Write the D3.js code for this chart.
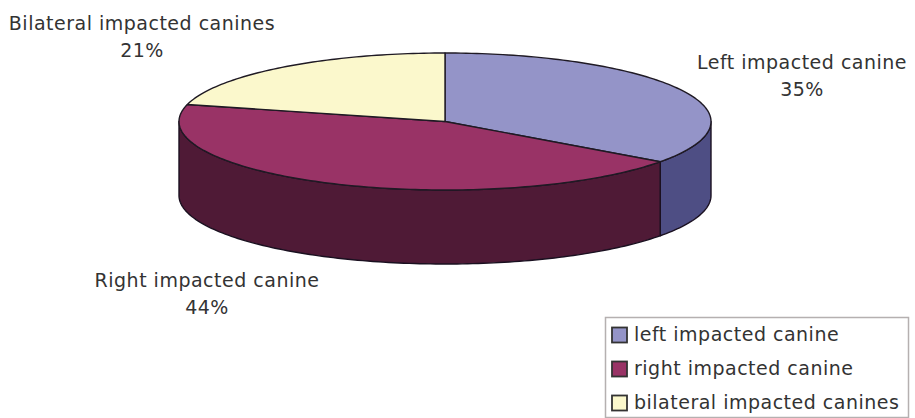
<!DOCTYPE html>
<html>
<head>
<meta charset="utf-8">
<script src="https://cdn.jsdelivr.net/npm/d3@7/dist/d3.min.js"></script>
<style>
html,body{margin:0;padding:0;background:#fff;}
svg{display:block;}
text{font-family:"DejaVu Sans",sans-serif;fill:#333;letter-spacing:0.5px;}
</style>
</head>
<body>
<svg id="chart" width="915" height="418"></svg>
<script>
// Share of each canine impaction type, in percent
const categories = ["left impacted canine", "right impacted canine", "bilateral impacted canines"];
const labelLines = ["Left impacted canine", "Right impacted canine", "Bilateral impacted canines"];
const values = [35, 44, 21];
const topColors = ["#9494c8", "#993366", "#fbf8cc"];
const sideColors = ["#4e4e84", "#4f1a36"];
const labelCentres = [[802, 62], [207, 280], [142, 23]];

const W = 915, H = 418;
const cx = 445, cy = 121.5, rx = 266, ry = 68.5, depth = 74;

const svg = d3.select("#chart").attr("viewBox", `0 0 ${W} ${H}`);

const slices = d3.pie().sort(null).value(d => d)(values);

// Flatten the circle into the tilted disc
const px = a => cx + rx * Math.sin(a);
const py = a => cy - ry * Math.cos(a);

const arcLine = (a0, a1, dy) => {
  const n = Math.max(2, Math.ceil((a1 - a0) / 0.02));
  return d3.range(n + 1).map(i => {
    const a = a0 + (a1 - a0) * i / n;
    return [px(a), py(a) + dy];
  });
};
const line = d3.line();

// Side wall: only the front half of the rim, from 90 to 270 degrees, is visible
const frontStart = Math.PI / 2, frontEnd = 3 * Math.PI / 2;
slices.forEach((s, i) => {
  const a0 = Math.max(s.startAngle, frontStart);
  const a1 = Math.min(s.endAngle, frontEnd);
  if (a1 <= a0) return;
  const pts = arcLine(a0, a1, 0).concat(arcLine(a0, a1, depth).reverse());
  svg.append("path")
    .attr("d", line(pts) + "Z")
    .attr("fill", sideColors[i])
    .attr("stroke", "#1a1020")
    .attr("stroke-width", 1.4)
    .attr("stroke-linejoin", "round");
});

// Top face of the disc
slices.forEach((s, i) => {
  const pts = [[cx, cy]].concat(arcLine(s.startAngle, s.endAngle, 0));
  svg.append("path")
    .attr("d", line(pts) + "Z")
    .attr("fill", topColors[i])
    .attr("stroke", "#1f1a24")
    .attr("stroke-width", 1.4)
    .attr("stroke-linejoin", "round");
});

// Data labels: name on the first line, percent on the second
const labels = svg.append("g").attr("font-size", 19).attr("text-anchor", "middle");
labelLines.forEach((name, i) => {
  const [x, y] = labelCentres[i];
  labels.append("text").attr("x", x).attr("y", y + 6.5).text(name);
  labels.append("text").attr("x", x).attr("y", y + 33.5).text(values[i] + "%");
});

// Legend
const legend = svg.append("g");
legend.append("rect")
  .attr("x", 605.5).attr("y", 317.5).attr("width", 303).attr("height", 100)
  .attr("fill", "#fff").attr("stroke", "#b5b0b0").attr("stroke-width", 1.5);
const rowY = d3.scalePoint().domain(categories).range([335, 403]);
categories.forEach((c, i) => {
  legend.append("rect")
    .attr("x", 612).attr("y", rowY(c) - 7.5).attr("width", 15).attr("height", 15)
    .attr("fill", topColors[i]).attr("stroke", "#333").attr("stroke-width", 1.8);
  legend.append("text")
    .attr("x", 634).attr("y", rowY(c) + 6)
    .attr("font-size", 19)
    .text(c);
});
</script>
</body>
</html>
